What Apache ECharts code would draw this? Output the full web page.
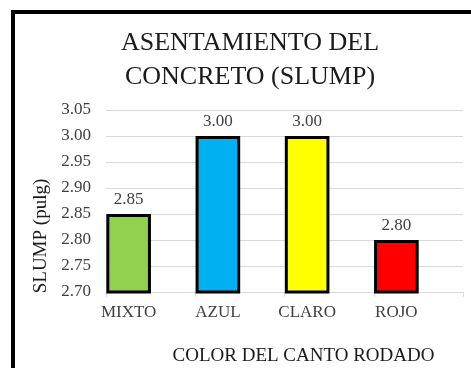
<!DOCTYPE html>
<html>
<head>
<meta charset="utf-8">
<script src="https://cdn.jsdelivr.net/npm/echarts@6/dist/echarts.min.js"></script>
<style>
  html, body { margin: 0; padding: 0; background: #fff; }
  #chart { width: 471px; height: 368px; }
</style>
</head>
<body>
<div id="chart"></div>
<script>
// Slump by colour of the river gravel
const categories = ['MIXTO', 'AZUL', 'CLARO', 'ROJO'];
const slumpValues = [2.85, 3.00, 3.00, 2.80];
const barColors = ['#92D050', '#00B0F0', '#FFFF00', '#FF0000'];
const yTicks = { min: 2.70, max: 3.05, step: 0.05 };

const FONT = 'Liberation Serif';
const TEXT = '#404040';
const GRID_LINE = '#D9D9D9';

const chart = echarts.init(document.getElementById('chart'), null, { renderer: 'canvas' });

const barData = slumpValues.map((v, i) => ({
  value: v,
  itemStyle: { color: barColors[i] }
}));

chart.setOption({
  animation: false,
  backgroundColor: '#fff',
  title: {
    text: 'ASENTAMIENTO DEL\nCONCRETO (SLUMP)',
    left: 245,
    top: 21,
    textAlign: 'center',
    textStyle: {
      fontFamily: FONT,
      fontSize: 26,
      fontWeight: 'normal',
      color: '#1a1a1a',
      lineHeight: 34
    }
  },
  graphic: [{
    type: 'rect',
    z: -1,
    shape: { x: 13, y: 12, width: 480, height: 390 },
    style: { fill: 'none', stroke: '#000', lineWidth: 4 }
  }],
  grid: [
    // plot frame: gridlines, axis line, ticks
    { left: 106, right: 8, top: 110, bottom: 76 },
    // bars and category labels
    { left: 84, right: 30, top: 110, bottom: 76 }
  ],
  xAxis: [{
    gridIndex: 0,
    type: 'category',
    data: categories,
    axisLine: { lineStyle: { color: GRID_LINE, width: 1 } },
    axisTick: { show: true, length: 5, lineStyle: { color: GRID_LINE } },
    axisLabel: { show: false },
    name: 'COLOR DEL CANTO RODADO',
    nameLocation: 'middle',
    nameGap: 55,
    nameTextStyle: {
      fontFamily: FONT, fontSize: 19, color: '#1a1a1a',
      padding: [0, 0, 0, 38]
    }
  }, {
    gridIndex: 1,
    type: 'category',
    data: categories,
    axisLine: { show: false },
    axisTick: { show: false },
    axisLabel: { fontFamily: FONT, fontSize: 17, color: TEXT, margin: 12 }
  }],
  yAxis: [{
    gridIndex: 0,
    type: 'value',
    min: yTicks.min,
    max: yTicks.max,
    interval: yTicks.step,
    axisLine: { show: false },
    axisTick: { show: false },
    splitLine: { lineStyle: { color: GRID_LINE, width: 1 } },
    axisLabel: {
      fontFamily: FONT, fontSize: 17, color: TEXT, margin: 15,
      formatter: v => v.toFixed(2)
    },
    name: 'SLUMP (pulg)',
    nameLocation: 'middle',
    nameGap: 54,
    nameTextStyle: {
      fontFamily: FONT, fontSize: 19, color: '#1a1a1a',
      padding: [0, 70, 0, 0]
    }
  }, {
    gridIndex: 1,
    type: 'value',
    min: yTicks.min,
    max: yTicks.max,
    interval: yTicks.step,
    show: false,
    splitLine: { show: false }
  }],
  series: [{
    type: 'bar',
    xAxisIndex: 1,
    yAxisIndex: 1,
    data: barData,
    barCategoryGap: '50%',
    itemStyle: { borderColor: '#000', borderWidth: 3 },
    label: {
      show: true,
      position: 'top',
      distance: 6,
      fontFamily: FONT,
      fontSize: 17,
      color: TEXT,
      formatter: p => Number(p.value).toFixed(2)
    }
  }]
});
</script>
</body>
</html>
